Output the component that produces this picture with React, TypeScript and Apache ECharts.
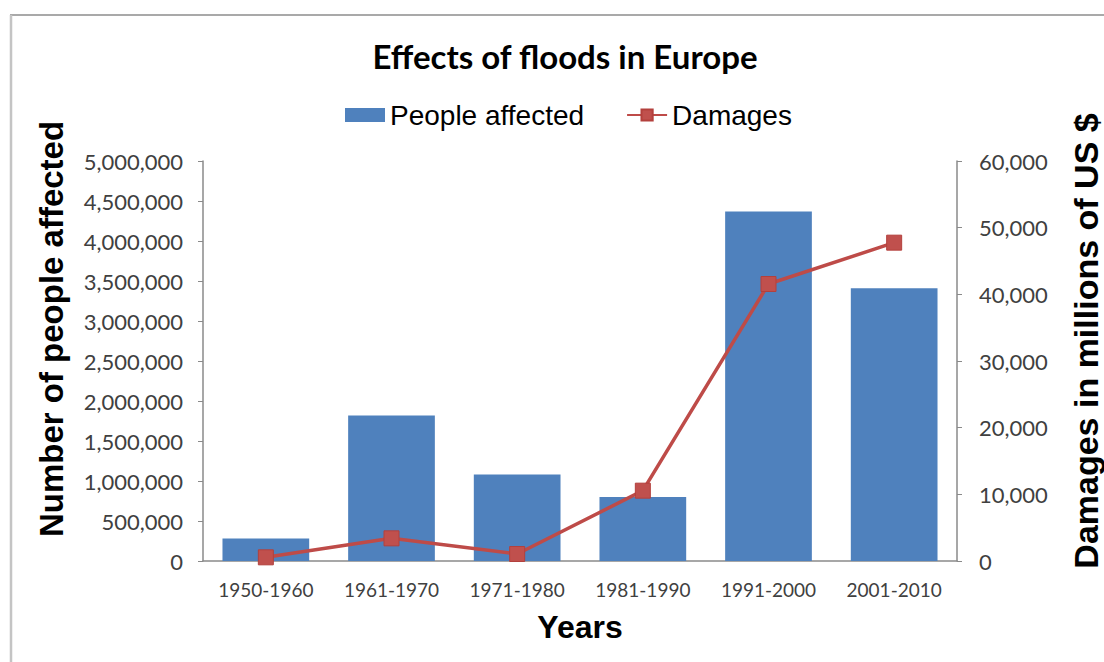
import React, { useEffect, useRef } from "react";
import * as echarts from "echarts";

const categories = ["1950-1960", "1961-1970", "1971-1980", "1981-1990", "1991-2000", "2001-2010"];
const peopleAffected = [280000, 1820000, 1080000, 800000, 4370000, 3410000];
const damages = [550, 3400, 1050, 10550, 41550, 47750];

const leftMin = 0;
const leftMax = 5000000;
const leftInterval = 500000;
const rightMin = 0;
const rightMax = 60000;
const rightInterval = 10000;

const titleText = "Effects of floods in Europe";
const leftAxisName = "Number of people affected";
const rightAxisName = "Damages in millions of US $";
const xAxisName = "Years";

const fmt = (v: number) => String(v).replace(/\B(?=(\d{3})+(?!\d))/g, ",");

export default function App() {
  const ref = useRef<HTMLDivElement>(null);
  useEffect(() => {
    if (!ref.current) return;
    const chart = echarts.init(ref.current, null, { renderer: "svg" });
    const axisGray = "#8a8a8a";
    const labelColor = "#404040";
    chart.setOption({
      animation: false,
      backgroundColor: "#ffffff",
      grid: { left: 203, right: 147, top: 161, bottom: 101, containLabel: false },
      legend: {
        left: 340,
        top: 96,
        itemWidth: 40,
        itemHeight: 14,
        itemGap: 42,
        textStyle: { fontFamily: "Liberation Sans", fontSize: 28, color: "#000" },
        data: [
          { name: "People affected", icon: "rect" },
          { name: "Damages" },
        ],
      },
      graphic: [
        { type: "line", shape: { x1: 10, y1: 15, x2: 1104, y2: 15 }, style: { stroke: "#8c8c8c", lineWidth: 1.5 } },
        { type: "line", shape: { x1: 11, y1: 15, x2: 11, y2: 662 }, style: { stroke: "#c4c4c4", lineWidth: 2.5 } },
        {
          type: "text",
          x: 565,
          y: 56,
          style: {
            text: titleText,
            font: "bold 33px Lato",
            fill: "#000",
            textAlign: "center",
            textVerticalAlign: "middle",
          },
        },
        {
          type: "text",
          x: 51,
          y: 329,
          rotation: Math.PI / 2,
          style: {
            text: leftAxisName,
            font: "bold 33px 'Liberation Sans'",
            fill: "#000",
            textAlign: "center",
            textVerticalAlign: "middle",
          },
        },
        {
          type: "text",
          x: 1086,
          y: 341,
          rotation: Math.PI / 2,
          style: {
            text: rightAxisName,
            font: "bold 34px 'Liberation Sans'",
            fill: "#000",
            textAlign: "center",
            textVerticalAlign: "middle",
          },
        },
      ],
      xAxis: {
        type: "category",
        data: categories,
        name: xAxisName,
        nameLocation: "middle",
        nameGap: 50,
        nameTextStyle: { fontFamily: "Liberation Sans", fontWeight: "bold", fontSize: 32, color: "#000" },
        axisLine: { lineStyle: { color: axisGray, width: 1.5 } },
        axisTick: { show: false },
        axisLabel: { fontFamily: "Lato", fontSize: 19, color: labelColor, margin: 19 },
      },
      yAxis: [
        {
          type: "value",
          min: leftMin,
          max: leftMax,
          interval: leftInterval,
          position: "left",
          splitLine: { show: false },
          axisLine: { show: true, lineStyle: { color: axisGray, width: 1.5 } },
          axisTick: { show: true, length: 5, lineStyle: { color: axisGray } },
          axisLabel: { fontFamily: "Lato", fontSize: 22, color: labelColor, margin: 20, formatter: (v: number) => fmt(v) },
        },
        {
          type: "value",
          min: rightMin,
          max: rightMax,
          interval: rightInterval,
          position: "right",
          splitLine: { show: false },
          axisLine: { show: true, lineStyle: { color: axisGray, width: 1.5 } },
          axisTick: { show: true, length: 5, lineStyle: { color: axisGray } },
          axisLabel: { fontFamily: "Lato", fontSize: 22, color: labelColor, margin: 22, formatter: (v: number) => fmt(v) },
        },
      ],
      series: [
        {
          name: "People affected",
          type: "bar",
          yAxisIndex: 0,
          data: peopleAffected,
          barCategoryGap: "31%",
          itemStyle: { color: "#4F81BD" },
        },
        {
          name: "Damages",
          type: "line",
          yAxisIndex: 1,
          data: damages,
          symbol: "rect",
          symbolSize: 15,
          lineStyle: { color: "#BE4B48", width: 3.5 },
          itemStyle: { color: "#C0504D", borderColor: "#B3403D", borderWidth: 1 },
        },
      ],
    });
    return () => chart.dispose();
  }, []);
  return <div ref={ref} style={{ position: "absolute", left: 0, top: 0, width: 1104, height: 662 }} />;
}
